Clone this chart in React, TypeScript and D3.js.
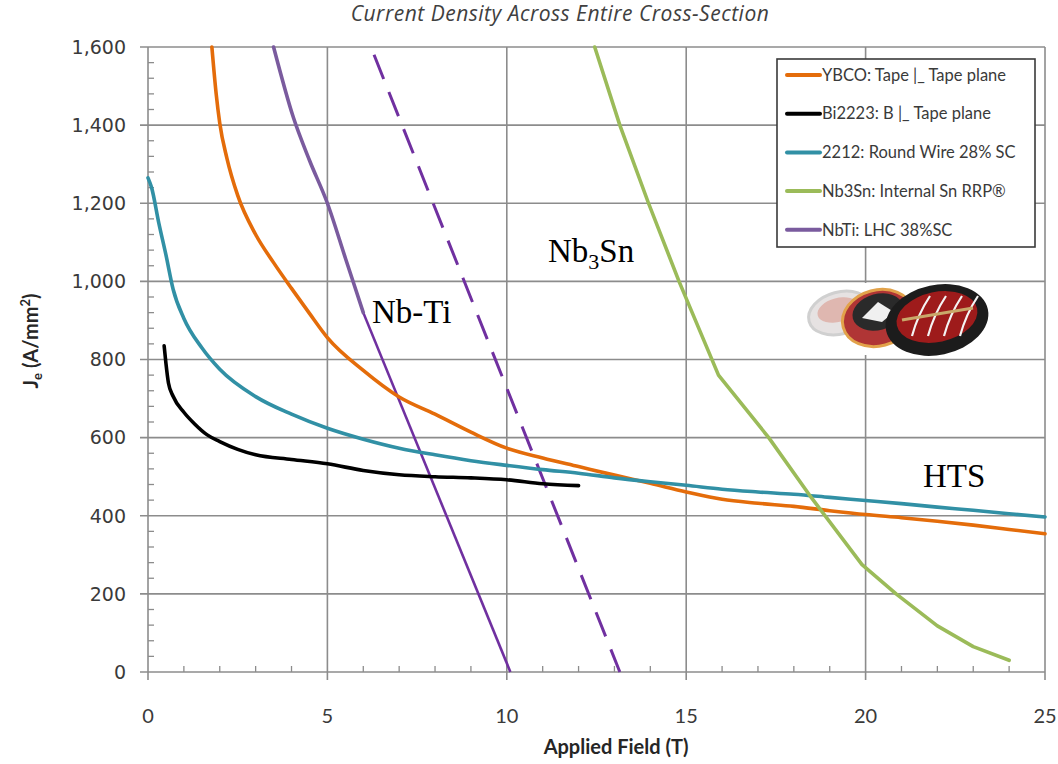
import * as d3 from "d3";
import React, { useEffect, useRef } from "react";

// [applied field T, Je A/mm2]
const ybcoTape: [number, number][] = [
  [1.78, 1600], [1.9, 1480], [2, 1405], [2.2, 1315], [2.5, 1220], [3, 1120], [3.5, 1048],
  [4, 982], [4.5, 918], [5, 856], [6, 772], [7, 704], [8, 660], [9, 614], [10, 573],
  [11, 548], [12, 526], [13, 504], [14, 483], [15, 461], [16, 442], [17, 432], [18, 424],
  [19, 413], [20, 403], [21, 395], [22, 386], [23, 376], [24, 365], [25, 354],
];
const bi2223: [number, number][] = [
  [0.45, 835], [0.5, 790], [0.57, 740], [0.7, 706], [1, 665], [1.3, 635], [1.65, 607],
  [2, 590], [2.5, 570], [3, 556], [4, 544], [5, 533], [6, 516], [7, 505], [8, 500],
  [9, 497], [10, 492], [11, 482], [12, 477],
];
const bi2212: [number, number][] = [
  [0, 1265], [0.1, 1240], [0.3, 1150], [0.5, 1068], [0.7, 980], [1, 905], [1.5, 830],
  [2, 775], [3, 705], [4, 660], [5, 624], [6, 596], [7, 573], [8, 556], [9, 541],
  [10, 529], [11, 518], [12, 509], [13, 497], [14, 487], [15, 478], [16, 468], [17, 461],
  [18, 455], [19, 447], [20, 439], [21, 431], [22, 422], [23, 414], [24, 405], [25, 397],
];
const nb3sn: [number, number][] = [
  [12.45, 1600], [13.15, 1400], [13.95, 1200], [14.8, 1000], [15.9, 760], [17.3, 600],
  [18.5, 445], [19.9, 275], [20.85, 200], [22, 118], [23, 65], [24, 30],
];
const nbtiLhc: [number, number][] = [
  [3.5, 1600], [4.05, 1420], [4.5, 1310], [5, 1200], [5.5, 1060], [6, 920],
];
const nbtiExtrap: [number, number][] = [[6, 920], [10.1, 0]];
const nb3snExtrap: [number, number][] = [[6.3, 1580], [13.15, 0]];

const legendLabels = [
  "YBCO: Tape |_ Tape plane",
  "Bi2223: B |_ Tape plane",
  "2212: Round Wire 28% SC",
  "Nb3Sn: Internal Sn RRP®",
  "NbTi: LHC 38%SC",
];
const seriesColors = ["#e46c0a", "#000000", "#3190a5", "#9bbb59", "#7a5b9e"];

const xTicks = [0, 5, 10, 15, 20, 25];
const yTicks = [0, 200, 400, 600, 800, 1000, 1200, 1400, 1600];

export default function App() {
  const svgRef = useRef<SVGSVGElement>(null);

  useEffect(() => {
    const svg = d3.select(svgRef.current);
    svg.selectAll("*").remove();

    const x = d3.scaleLinear().domain([0, 25]).range([148, 1045]);
    const y = d3.scaleLinear().domain([0, 1600]).range([672, 47]);
    const grid = "#8c8c8c";

    svg.append("rect").attr("width", 1058).attr("height", 764).attr("fill", "#fff");

    // title
    svg.append("text")
      .attr("x", 560).attr("y", 21)
      .attr("text-anchor", "middle")
      .attr("font-family", "Open Sans, sans-serif")
      .attr("font-style", "italic")
      .attr("font-size", 21)
      .attr("letter-spacing", 0.5)
      .attr("fill", "#404040")
      .text("Current Density Across Entire Cross-Section");

    // gridlines
    const g = svg.append("g");
    g.selectAll(".hg").data(yTicks).enter().append("line")
      .attr("x1", x(0) - 8).attr("x2", x(25))
      .attr("y1", d => y(d)).attr("y2", d => y(d))
      .attr("stroke", grid).attr("stroke-width", 1.6);
    g.selectAll(".vg").data(xTicks).enter().append("line")
      .attr("y1", y(1600)).attr("y2", y(0) + 8)
      .attr("x1", d => x(d)).attr("x2", d => x(d))
      .attr("stroke", grid).attr("stroke-width", 1.6);

    // minor ticks
    const yMinor = d3.range(0, 1601, 40).filter(v => v % 200 !== 0);
    g.selectAll(".ym").data(yMinor).enter().append("line")
      .attr("x1", x(0)).attr("x2", x(0) + 6)
      .attr("y1", d => y(d)).attr("y2", d => y(d))
      .attr("stroke", grid).attr("stroke-width", 1.3);
    const xMinor = d3.range(0, 26, 1).filter(v => v % 5 !== 0);
    g.selectAll(".xm").data(xMinor).enter().append("line")
      .attr("y1", y(0)).attr("y2", y(0) - 6)
      .attr("x1", d => x(d)).attr("x2", d => x(d))
      .attr("stroke", grid).attr("stroke-width", 1.3);

    // tick labels
    g.selectAll(".yl").data(yTicks).enter().append("text")
      .attr("x", x(0) - 22).attr("y", d => y(d)).attr("dy", "0.36em")
      .attr("text-anchor", "end")
      .attr("font-family", "DejaVu Sans, sans-serif").attr("font-size", 19)
      .attr("fill", "#3a3a3a")
      .text(d => d3.format(",")(d));
    g.selectAll(".xl").data(xTicks).enter().append("text")
      .attr("x", d => x(d)).attr("y", 723)
      .attr("text-anchor", "middle")
      .attr("font-family", "Lato, sans-serif").attr("font-size", 20)
      .attr("fill", "#3a3a3a")
      .text(d => d);

    // axis titles
    svg.append("text")
      .attr("x", 616).attr("y", 754)
      .attr("text-anchor", "middle")
      .attr("font-family", "Lato, sans-serif").attr("font-weight", "bold").attr("font-size", 20)
      .attr("fill", "#262626")
      .text("Applied Field (T)");
    const yt = svg.append("text")
      .attr("transform", "translate(38,341) rotate(-90)")
      .attr("text-anchor", "middle")
      .attr("font-family", "Lato, sans-serif").attr("font-weight", "bold").attr("font-size", 20)
      .attr("fill", "#262626");
    yt.append("tspan").text("J");
    yt.append("tspan").attr("font-size", 13).attr("dy", 4).text("e");
    yt.append("tspan").attr("dy", -4).text(" (A/mm");
    yt.append("tspan").attr("font-size", 13).attr("dy", -8).text("2");
    yt.append("tspan").attr("dy", 8).text(")");

    // series lines
    const line = d3.line<[number, number]>()
      .x(d => x(d[0])).y(d => y(d[1]))
      .curve(d3.curveMonotoneX);
    const straight = d3.line<[number, number]>()
      .x(d => x(d[0])).y(d => y(d[1]));

    const plot = svg.append("g");
    plot.append("path").datum(nbtiExtrap).attr("d", straight)
      .attr("fill", "none").attr("stroke", "#7030a0").attr("stroke-width", 2.6);
    plot.append("path").datum(nb3snExtrap).attr("d", straight)
      .attr("fill", "none").attr("stroke", "#7030a0").attr("stroke-width", 3)
      .attr("stroke-dasharray", "26 14");
    const series = [ybcoTape, bi2223, bi2212, nb3sn, nbtiLhc];
    series.forEach((s, i) => {
      plot.append("path").datum(s)
        .attr("d", i === 3 ? straight : line)
        .attr("fill", "none")
        .attr("stroke", seriesColors[i])
        .attr("stroke-width", 3.6)
        .attr("stroke-linejoin", "round")
        .attr("stroke-linecap", "round");
    });

    // in-plot labels
    const serif = "Liberation Serif, Times New Roman, serif";
    svg.append("text").attr("x", 372).attr("y", 323)
      .attr("font-family", serif).attr("font-size", 33).attr("fill", "#000").text("Nb-Ti");
    svg.append("text").attr("x", 923).attr("y", 487)
      .attr("font-family", serif).attr("font-size", 33).attr("fill", "#000").text("HTS");
    const sn = svg.append("text").attr("x", 548).attr("y", 262)
      .attr("font-family", serif).attr("font-size", 33).attr("fill", "#000");
    sn.append("tspan").text("Nb");
    sn.append("tspan").attr("font-size", 22).attr("dy", 7).text("3");
    sn.append("tspan").attr("dy", -7).text("Sn");

    // logo (approximate badges)
    const logo = svg.append("g");
    logo.append("rect").attr("x", 806).attr("y", 283).attr("width", 192).attr("height", 72).attr("fill", "#fff");
    logo.append("ellipse").attr("cx", 840).attr("cy", 313).attr("rx", 32).attr("ry", 21)
      .attr("fill", "#e6e2e2").attr("stroke", "#d0d0d0").attr("stroke-width", 3)
      .attr("transform", "rotate(-15 840 313)");
    logo.append("ellipse").attr("cx", 838).attr("cy", 310).attr("rx", 21).attr("ry", 12)
      .attr("fill", "#dfb7b0").attr("transform", "rotate(-15 838 310)");
    logo.append("ellipse").attr("cx", 878).attr("cy", 318).attr("rx", 36).attr("ry", 28)
      .attr("fill", "#b03535").attr("stroke", "#e2a24a").attr("stroke-width", 3)
      .attr("transform", "rotate(-15 878 318)");
    logo.append("ellipse").attr("cx", 878).attr("cy", 312).attr("rx", 26).attr("ry", 18)
      .attr("fill", "#2a2a2a").attr("transform", "rotate(-15 878 312)");
    logo.append("path").attr("d", "M862 318 L878 302 L894 312 L882 322 Z").attr("fill", "#f0f0f0");
    logo.append("ellipse").attr("cx", 937).attr("cy", 320).attr("rx", 52).attr("ry", 35)
      .attr("fill", "#1c1c1c").attr("transform", "rotate(-12 937 320)");
    logo.append("ellipse").attr("cx", 937).attr("cy", 317).attr("rx", 41).attr("ry", 25)
      .attr("fill", "#9e1b1b").attr("transform", "rotate(-12 937 317)");
    [0, 1, 2, 3].forEach(k => {
      logo.append("path")
        .attr("d", `M${912 + k * 16} 336 Q${918 + k * 16} 314 ${930 + k * 16} 296`)
        .attr("fill", "none").attr("stroke", "#f4f4f4").attr("stroke-width", 2.2);
    });
    logo.append("line").attr("x1", 902).attr("y1", 320).attr("x2", 973).attr("y2", 308)
      .attr("stroke", "#c9a86a").attr("stroke-width", 3);

    // legend
    const lg = svg.append("g");
    lg.append("rect").attr("x", 777).attr("y", 59).attr("width", 258).attr("height", 188)
      .attr("fill", "#fff").attr("stroke", "#3a3a3a").attr("stroke-width", 1.6);
    legendLabels.forEach((lab, i) => {
      const yy = 75 + i * 38.7;
      lg.append("line").attr("x1", 787).attr("x2", 820).attr("y1", yy).attr("y2", yy)
        .attr("stroke", seriesColors[i]).attr("stroke-width", 4).attr("stroke-linecap", "round");
      lg.append("text").attr("x", 822).attr("y", yy).attr("dy", "0.35em")
        .attr("font-family", "Lato, sans-serif").attr("font-size", 16.5)
        .attr("fill", "#3a3a3a").text(lab);
    });
  }, []);

  return (
    <svg ref={svgRef} width={1058} height={764}
      style={{ position: "absolute", left: 0, top: 0 }} />
  );
}
